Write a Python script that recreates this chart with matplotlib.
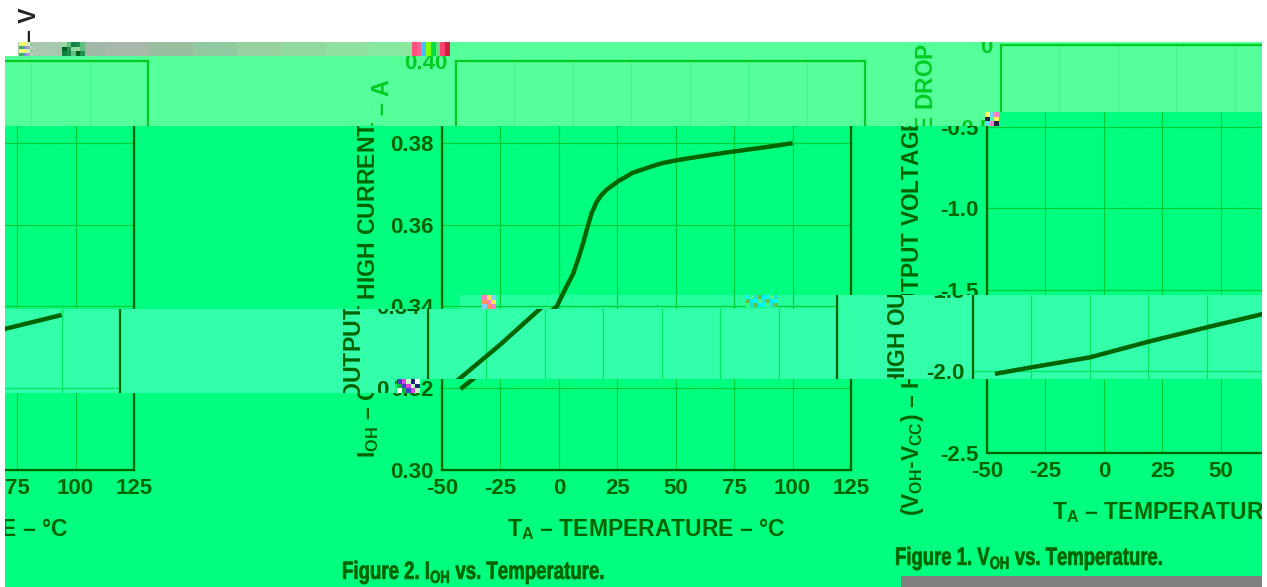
#!/usr/bin/env python3
"""Three temperature charts, scan with shifted horizontal bands"""
import matplotlib; matplotlib.use('Agg')
import matplotlib.pyplot as plt
from matplotlib.patches import Rectangle
from matplotlib.patheffects import AbstractPathEffect
from matplotlib.transforms import Affine2D, Bbox, TransformedBbox, IdentityTransform

W, H = 1267, 587

plt.rcParams['font.family'] = 'Liberation Sans'
plt.rcParams['font.weight'] = 'bold'
plt.rcParams['axes.labelweight'] = 'bold'
plt.rcParams['mathtext.fontset'] = 'custom'
plt.rcParams['mathtext.bf'] = 'Liberation Sans:bold'
plt.rcParams['mathtext.rm'] = 'Liberation Sans:bold'

# Data
temp_ticks = [-50, -25, 0, 25, 50, 75, 100, 125]
temp_labels = ['-50', '-25', '0', '25', '50', '75', '100', '125']

ioh_ticks = [0.30, 0.32, 0.34, 0.36, 0.38, 0.40]
ioh_labels = ['0.30', '0.32', '0.34', '0.36', '0.38', '0.40']
voh_ticks = [-2.5, -2.0, -1.5, -1.0, -0.5, 0]
voh_labels = ['-2.5', '-2.0', '-1.5', '-1.0', '-0.5', '0']

t_left = [75, 100]
i_left = [0.3344, 0.3379]

t_ioh = [-42, -40.6, -37.2, -18.8, -0.9, 2, 6.2, 8.5, 10.4, 12.3, 14, 16.2, 18.3, 20.4, 25.1, 31.7, 39, 44, 50, 62, 75, 88, 100]
i_ioh = [0.3198, 0.3205, 0.3220, 0.3308, 0.3400, 0.3434, 0.3481, 0.3520, 0.3555, 0.3595, 0.3628, 0.3656,
         0.3673, 0.3685, 0.3705, 0.3727, 0.3741, 0.3750, 0.3757, 0.3768, 0.3779, 0.3789, 0.3799]

t_voh = [-40.6, -25, 0, 25, 50, 75, 100]
v_voh = [-2.015, -1.975, -1.914, -1.818, -1.73, -1.645, -1.56]

LABEL_1 = r'$\mathbf{I_{OH}}$ – OUTPUT HIGH CURRENT – A'
LABEL_3 = r'$\mathbf{(V_{OH}}$-$\mathbf{V_{CC})}$ – HIGH OUTPUT VOLTAGE DROP – V'
XLABEL = r'$\mathbf{T_A}$ – TEMPERATURE – °C'

# Colours: bg, ink, grid
MAIN = ('#00FF7F', '#006400', '#00CC36')
TOP = ('#55FF99', '#00CC22', '#48F48C')
BAND = ('#33FFAA', '#006400', '#00E860')
SEAM = ('#22FF9C', '#006400', '#00CC36')

fig = plt.figure(figsize=(W / 100, H / 100), dpi=100, facecolor='white')


class Squeeze(AbstractPathEffect):
    # condensed heavy look for the captions, no condensed font is installed
    def __init__(self, sx, stroke):
        super().__init__()
        self.sx, self.stroke = sx, stroke

    def draw_path(self, renderer, gc, tpath, affine, rgbFace=None):
        gc0 = renderer.new_gc()
        gc0.copy_properties(gc)
        gc0.set_foreground(rgbFace)
        gc0.set_linewidth(self.stroke)
        renderer.draw_path(gc0, tpath, Affine2D().scale(self.sx, 1) + affine, rgbFace)
        gc0.restore()


def make_axes(x0, y0, x1, y1, dx, z):
    ax = fig.add_axes([(x0 + dx) / W, 1 - y1 / H, (x1 - x0) / W, (y1 - y0) / H])
    ax.patch.set_visible(False)
    ax.set_zorder(z)
    return ax


def style(ax, yticks, ylabels, ylim, ink, grid):
    ax.set_xlim(-50, 125); ax.set_ylim(*ylim)
    ax.set_xticks(temp_ticks, temp_labels)
    ax.set_yticks(yticks, ylabels)
    ax.tick_params(length=0, pad=6, labelsize=16, colors=ink)
    ax.grid(True, color=grid, lw=0.9)
    ax.set_axisbelow(True)
    for s in ax.spines.values():
        s.set_color(ink); s.set_linewidth(1.6)
    ax.set_xlabel(XLABEL, fontsize=16.5, color=ink, labelpad=12)


def panel(rect, dx, colors, z):
    bg, ink, grid = colors
    x0, y0, x1, y1 = rect
    fig.add_artist(Rectangle((x0, H - y1), x1 - x0, y1 - y0, transform=IdentityTransform(),
                             facecolor=bg, edgecolor='none', zorder=z))
    clip = TransformedBbox(Bbox([[x0, H - y1], [x1, H - y0]]), IdentityTransform())

    a1 = make_axes(-275, 61, 134, 470, dx, z + 0.5)
    style(a1, ioh_ticks, ioh_labels, (0.30, 0.40), ink, grid)
    a1.plot(t_left, i_left, color='#006400', lw=3.2, solid_capstyle='butt')

    a2 = make_axes(442, 61, 851, 470, dx, z + 0.5)
    style(a2, ioh_ticks, ioh_labels, (0.30, 0.40), ink, grid)
    a2.plot(t_ioh, i_ioh, color='#006400', lw=3.2, solid_capstyle='butt')
    a2.set_ylabel(LABEL_1, fontsize=16.7, color=ink, labelpad=7, y=0.493)

    a3 = make_axes(987, 45, 1396, 453, dx, z + 0.5)
    style(a3, voh_ticks, voh_labels, (-2.5, 0), ink, grid)
    a3.plot(t_voh, v_voh, color='#006400', lw=3.2, solid_capstyle='butt')
    a3.set_ylabel(LABEL_3, fontsize=16.4, color=ink, labelpad=10, y=0.475)

    fig.canvas.draw()
    for ax in (a1, a2, a3):
        for art in ax.findobj():
            if art is ax or art is ax.patch:
                continue
            art.set_clip_path(None)
            art.set_clip_box(clip)
            art.set_clip_on(True)
    return clip


def blocks(x, y, nx, ny, size, palette, z=40):
    # small colour squares of the scan damage, palette is cycled
    k = 0
    for j in range(ny):
        for i in range(nx):
            fig.add_artist(Rectangle((x + i * size, H - y - (j + 1) * size), size, size,
                                     transform=IdentityTransform(), facecolor=palette[k % len(palette)],
                                     edgecolor='none', zorder=z))
            k += 1


# main picture first, shifted bands on top
panel((5, 112, 1262, 587), 0, MAIN, 1)
panel((5, 56, 985, 126), 14, TOP, 3)
panel((450, 42, 985, 56), 14, TOP, 5)
panel((985, 42, 1262, 112), 14, TOP, 7)
panel((460, 295, 835, 309), 0, SEAM, 9)
panel((5, 309, 395, 393), -14, BAND, 11)
panel((395, 309, 835, 379), -14, BAND, 13)
panel((835, 295, 1262, 379), -14, BAND, 15)

# captions
c2 = fig.text(342 / W, 1 - 579 / H, r'Figure 2. I$\mathbf{_{OH}}$ vs. Temperature.', fontsize=18,
              color='#006400', va='baseline', zorder=30)
c1 = fig.text(895 / W, 1 - 565 / H, r'Figure 1. V$\mathbf{_{OH}}$ vs. Temperature.', fontsize=18,
              color='#006400', va='baseline', zorder=30)
c2.set_path_effects([Squeeze(0.745, 0.5)])
c1.set_path_effects([Squeeze(0.74, 0.5)])

# leftover of a label above the page edge
fig.text(30 / W, 1 - 42 / H, '– V', rotation=90, fontsize=16.5, color='#222222', ha='center', va='bottom', zorder=30)

# grey strip bottom right
fig.add_artist(Rectangle((901, 0), 361, H - 576, transform=IdentityTransform(), facecolor='#808080',
                         edgecolor='none', zorder=35))

# gradient strip along the top and noise spots
strip = ['#A8C8B0', '#A0B8A8', '#A8B8A8', '#98C0A0', '#90C8A0', '#98D0A0', '#90D8A0', '#90E0A0', '#88E8A0']
for n in range(54):
    fig.add_artist(Rectangle((18 + n * 7.3, H - 56), 7.3, 14, transform=IdentityTransform(),
                             facecolor=strip[n * len(strip) // 54], edgecolor='none', zorder=38))
blocks(19, 42, 4, 4, 3.5, ['#E8FF80', '#FFFF40', '#D0F0B0', '#A0C8A0', '#40B060', '#8080FF', '#A0A0D0', '#C0D0C0'])
blocks(62, 42, 5, 3, 4.5, ['#98D8A0', '#60C080', '#108040', '#208850', '#60C080', '#006020', '#209050', '#90D8A0'])
blocks(412, 42, 8, 3, 4.7, ['#FF5080', '#FF6090', '#40C0FF', '#80FF00', '#00E040', '#60E080', '#FF4070', '#D02040'])
blocks(482, 295, 3, 3, 4.7, ['#FF80C0', '#FFE060', '#80D0FF', '#FF9060'])
blocks(746, 295, 8, 3, 4, ['#00FFFF', '#40FF80', '#20E0D0', '#60C040', '#00F0FF'])
blocks(985, 112, 3, 3, 4.5, ['#FFFF60', '#60E0FF', '#FF80C0', '#202040', '#40FFC0'])
blocks(397, 379, 5, 3, 4.5, ['#4040C0', '#E040E0', '#C0FFC0', '#202080', '#FFFFFF', '#00C030'])

fig.savefig('out.png', dpi=100)
